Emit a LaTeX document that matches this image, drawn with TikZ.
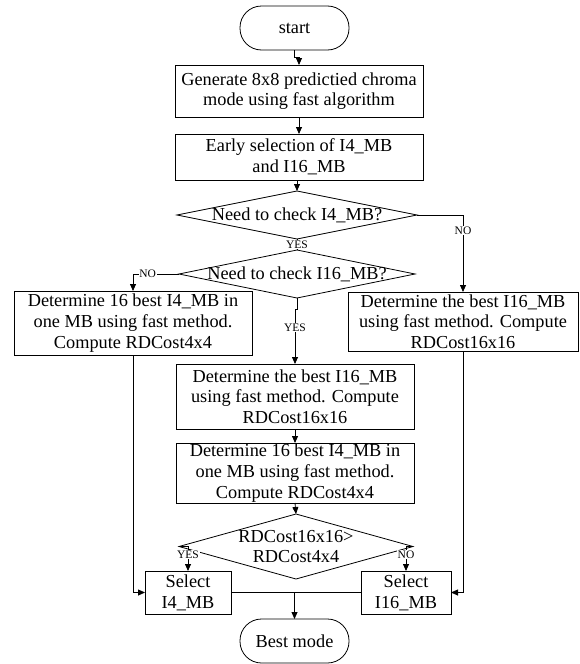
\documentclass[tikz,border=0pt]{standalone}
\usepackage{fontspec}
\setmainfont{Liberation Serif}
\usetikzlibrary{shapes.geometric,arrows.meta}
\begin{document}
\begin{tikzpicture}[x=1pt,y=-1pt,
  txt/.style={font=\fontsize{18.3}{20.7}\selectfont, align=center},
  box/.style={draw, line width=0.8pt, txt, inner sep=1pt, outer sep=0pt},
  term/.style={box, rounded corners=21.5pt},
  dia/.style={draw, diamond, line width=0.8pt, inner sep=0pt, outer sep=0pt},
  lbl/.style={font=\fontsize{11.5}{12}\selectfont, fill=white, inner sep=0.8pt},
  arr/.style={line width=0.8pt, -{Triangle[length=7pt,width=6pt]}},
  ln/.style={line width=0.8pt}]
\useasboundingbox (0,0) rectangle (579,664);

\node[term, minimum width=109pt, minimum height=44pt] (start) at (294.5,28) {start};
\node[box, minimum width=248pt, minimum height=52pt] (gen) at (299,91) {Generate 8x8 predictied chroma\\mode using fast algorithm};
\node[box, minimum width=248pt, minimum height=46pt] (early) at (299,157) {Early selection of I4\_MB\\and I16\_MB};
\node[dia, minimum width=240pt, minimum height=48pt, label={[txt]center:Need to check I4\_MB?}] (d1) at (297,215) {};
\node[dia, minimum width=236pt, minimum height=48pt, label={[txt]center:Need to check I16\_MB?}] (d2) at (297,274) {};
\node[box, minimum width=238pt, minimum height=64pt] (lb) at (133,323) {Determine 16 best I4\_MB in\\one MB using fast method.\\Compute RDCost4x4};
\node[box, minimum width=230pt, minimum height=59pt] (rb) at (463,321.5) {Determine the best I16\_MB\\using fast method. Compute\\RDCost16x16};
\node[box, minimum width=238pt, minimum height=65pt] (m1) at (295,396.5) {Determine the best I16\_MB\\using fast method. Compute\\RDCost16x16};
\node[box, minimum width=238pt, minimum height=60pt] (m2) at (295,473) {Determine 16 best I4\_MB in\\one MB using fast method.\\Compute RDCost4x4};
\node[dia, minimum width=234pt, minimum height=65pt, label={[txt]center:RDCost16x16>\\RDCost4x4}] (d3) at (296,546.5) {};
\node[box, minimum width=86pt, minimum height=43pt] (s4) at (188,592.5) {Select\\I4\_MB};
\node[box, minimum width=90pt, minimum height=43pt] (s16) at (406,592.5) {Select\\I16\_MB};
\node[term, minimum width=109pt, minimum height=44pt] (best) at (294.5,641) {Best mode};

\draw[arr] (start.south) -- ++(0,7) -| (gen.north);
\draw[arr] (gen.south) -- (early.north);
\draw[arr] (d1.north |- early.south) -- (d1.north);
\draw[ln] (d1.south) -- node[lbl]{YES} (d2.north);
\draw[arr] (d1.east) -| node[lbl, pos=0.6]{NO} (rb.north);
\draw[arr] (d2.west) -| node[lbl, pos=0.34]{NO} (lb.north);
\draw[arr] (d2.south) -- ++(0,11) -| node[lbl, pos=0.67]{YES} (m1.north);
\draw[arr] (m1.south) -- (m2.north);
\draw[arr] (m2.south) -- (d3.north);
\draw[arr] (d3.west) -| node[lbl, pos=0.66]{YES} (s4.north);
\draw[arr] (d3.east) -| node[lbl, pos=0.66]{NO} (s16.north);
\draw[arr] (lb.south) |- (s4.west);
\draw[arr] (rb.south) |- (s16.east);
\draw[ln] (s4.east) -- (s16.west);
\draw[arr] (best.north |- s4.east) -- (best.north);
\end{tikzpicture}
\end{document}
